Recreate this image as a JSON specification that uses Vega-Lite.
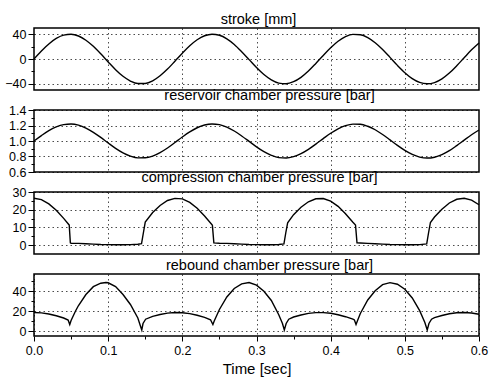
{
  "$schema": "https://vega.github.io/schema/vega-lite/v6.json",
  "padding": {"left": 4, "right": 0, "top": 10, "bottom": 0},
  "background": "white",
  "bounds": "flush",
  "spacing": 20,
  "config": {
    "font": "Liberation Sans",
    "view": {"stroke": "black", "strokeWidth": 1.5},
    "title": {"fontSize": 14.5, "fontWeight": "normal", "color": "black", "offset": 1, "anchor": "middle", "font": "Liberation Sans"},
    "axis": {"domain": false, "labelColor": "black", "labelFontSize": 12.5, "labelFont": "Liberation Sans", "tickColor": "black", "gridColor": "black", "gridDash": [1.5, 3], "gridWidth": 1, "titleColor": "black", "titleFontWeight": "normal", "titleFontSize": 15, "titleFont": "Liberation Sans", "labelPadding": 2, "labelFlush": false, "labelOverlap": false},
    "line": {"color": "black", "strokeWidth": 1.4}
  },
  "datasets": {
    "sr": [
      {"t": 0.00, "stroke": 0, "res": 1.000},
      {"t": 0.01, "stroke": 12.8, "res": 1.070},
      {"t": 0.02, "stroke": 24.3, "res": 1.134},
      {"t": 0.03, "stroke": 33.2, "res": 1.183},
      {"t": 0.04, "stroke": 38.6, "res": 1.212},
      {"t": 0.05, "stroke": 39.9, "res": 1.219},
      {"t": 0.06, "stroke": 37.1, "res": 1.204},
      {"t": 0.07, "stroke": 30.3, "res": 1.167},
      {"t": 0.08, "stroke": 20.4, "res": 1.112},
      {"t": 0.09, "stroke": 8.3, "res": 1.046},
      {"t": 0.10, "stroke": -4.7, "res": 0.974},
      {"t": 0.11, "stroke": -17.2, "res": 0.905},
      {"t": 0.12, "stroke": -27.9, "res": 0.847},
      {"t": 0.13, "stroke": -35.5, "res": 0.805},
      {"t": 0.14, "stroke": -39.6, "res": 0.782},
      {"t": 0.15, "stroke": -39.4, "res": 0.783},
      {"t": 0.16, "stroke": -35.2, "res": 0.806},
      {"t": 0.17, "stroke": -27.1, "res": 0.851},
      {"t": 0.18, "stroke": -16.3, "res": 0.910},
      {"t": 0.19, "stroke": -3.6, "res": 0.980},
      {"t": 0.20, "stroke": 9.3, "res": 1.051},
      {"t": 0.21, "stroke": 21.3, "res": 1.117},
      {"t": 0.22, "stroke": 31.0, "res": 1.171},
      {"t": 0.23, "stroke": 37.5, "res": 1.206},
      {"t": 0.24, "stroke": 40.0, "res": 1.220},
      {"t": 0.25, "stroke": 38.3, "res": 1.211},
      {"t": 0.26, "stroke": 32.6, "res": 1.179},
      {"t": 0.27, "stroke": 23.5, "res": 1.129},
      {"t": 0.28, "stroke": 11.8, "res": 1.065},
      {"t": 0.29, "stroke": -1.0, "res": 0.995},
      {"t": 0.30, "stroke": -13.8, "res": 0.924},
      {"t": 0.31, "stroke": -25.1, "res": 0.862},
      {"t": 0.32, "stroke": -33.7, "res": 0.815},
      {"t": 0.33, "stroke": -38.9, "res": 0.786},
      {"t": 0.34, "stroke": -39.8, "res": 0.781},
      {"t": 0.35, "stroke": -36.6, "res": 0.799},
      {"t": 0.36, "stroke": -29.6, "res": 0.837},
      {"t": 0.37, "stroke": -19.5, "res": 0.893},
      {"t": 0.38, "stroke": -7.2, "res": 0.960},
      {"t": 0.39, "stroke": 5.7, "res": 1.031},
      {"t": 0.40, "stroke": 18.1, "res": 1.100},
      {"t": 0.41, "stroke": 28.6, "res": 1.157},
      {"t": 0.42, "stroke": 36.0, "res": 1.198},
      {"t": 0.43, "stroke": 39.7, "res": 1.218},
      {"t": 0.44, "stroke": 39.2, "res": 1.216},
      {"t": 0.45, "stroke": 34.6, "res": 1.190},
      {"t": 0.46, "stroke": 26.3, "res": 1.145},
      {"t": 0.47, "stroke": 15.3, "res": 1.084},
      {"t": 0.48, "stroke": 2.6, "res": 1.014},
      {"t": 0.49, "stroke": -10.3, "res": 0.943},
      {"t": 0.50, "stroke": -22.1, "res": 0.878},
      {"t": 0.51, "stroke": -31.7, "res": 0.826},
      {"t": 0.52, "stroke": -37.8, "res": 0.792},
      {"t": 0.53, "stroke": -40.0, "res": 0.780},
      {"t": 0.54, "stroke": -38.0, "res": 0.791},
      {"t": 0.55, "stroke": -32.0, "res": 0.824},
      {"t": 0.56, "stroke": -22.7, "res": 0.875},
      {"t": 0.57, "stroke": -10.8, "res": 0.941},
      {"t": 0.58, "stroke": 2.1, "res": 1.012},
      {"t": 0.59, "stroke": 14.8, "res": 1.081},
      {"t": 0.60, "stroke": 25.9, "res": 1.142}
    ],
    "comp": [
      {"t": 0, "p": 26.5}, {"t": 0.01, "p": 25.7}, {"t": 0.02, "p": 23.3}, {"t": 0.03, "p": 19.7}, {"t": 0.04, "p": 15.1}, {"t": 0.046, "p": 12.1}, {"t": 0.0475, "p": 11.3}, {"t": 0.049, "p": 1.3}, {"t": 0.05, "p": 1.1}, {"t": 0.06, "p": 1.0}, {"t": 0.07, "p": 0.8}, {"t": 0.08, "p": 0.6}, {"t": 0.09, "p": 0.4}, {"t": 0.10, "p": 0.3}, {"t": 0.11, "p": 0.2}, {"t": 0.12, "p": 0.2}, {"t": 0.13, "p": 0.3}, {"t": 0.14, "p": 0.5}, {"t": 0.145, "p": 0.8}, {"t": 0.1475, "p": 7}, {"t": 0.150, "p": 13.0}, {"t": 0.16, "p": 18.4}, {"t": 0.17, "p": 22.4}, {"t": 0.18, "p": 25.2}, {"t": 0.19, "p": 26.4}, {"t": 0.20, "p": 26.1}, {"t": 0.21, "p": 24.1}, {"t": 0.22, "p": 20.8}, {"t": 0.23, "p": 16.4}, {"t": 0.24, "p": 11.5}, {"t": 0.2405, "p": 11.3}, {"t": 0.2425, "p": 1.3}, {"t": 0.25, "p": 1.1}, {"t": 0.26, "p": 1.0}, {"t": 0.27, "p": 0.8}, {"t": 0.28, "p": 0.6}, {"t": 0.29, "p": 0.4}, {"t": 0.30, "p": 0.3}, {"t": 0.31, "p": 0.2}, {"t": 0.32, "p": 0.2}, {"t": 0.33, "p": 0.4}, {"t": 0.337, "p": 0.7}, {"t": 0.3395, "p": 7}, {"t": 0.342, "p": 12.6}, {"t": 0.35, "p": 17.2}, {"t": 0.36, "p": 21.4}, {"t": 0.37, "p": 24.5}, {"t": 0.38, "p": 26.2}, {"t": 0.39, "p": 26.3}, {"t": 0.40, "p": 24.8}, {"t": 0.41, "p": 21.9}, {"t": 0.42, "p": 17.7}, {"t": 0.43, "p": 12.9}, {"t": 0.4335, "p": 11.4}, {"t": 0.4355, "p": 1.3}, {"t": 0.44, "p": 1.2}, {"t": 0.45, "p": 1.0}, {"t": 0.46, "p": 0.8}, {"t": 0.47, "p": 0.6}, {"t": 0.48, "p": 0.4}, {"t": 0.49, "p": 0.3}, {"t": 0.50, "p": 0.2}, {"t": 0.51, "p": 0.2}, {"t": 0.52, "p": 0.3}, {"t": 0.5295, "p": 0.7}, {"t": 0.532, "p": 7}, {"t": 0.5345, "p": 12.8}, {"t": 0.54, "p": 15.9}, {"t": 0.55, "p": 20.3}, {"t": 0.56, "p": 23.8}, {"t": 0.57, "p": 25.9}, {"t": 0.58, "p": 26.5}, {"t": 0.59, "p": 25.4}, {"t": 0.60, "p": 22.8}
    ],
    "reb": [
      {"t": 0, "p": 18.5}, {"t": 0.01, "p": 18.1}, {"t": 0.02, "p": 17.0}, {"t": 0.03, "p": 15.2}, {"t": 0.04, "p": 13.0}, {"t": 0.046, "p": 11.0}, {"t": 0.0482, "p": 6.5}, {"t": 0.05, "p": 10.5}, {"t": 0.056, "p": 20.0}, {"t": 0.06, "p": 25.5}, {"t": 0.07, "p": 36.5}, {"t": 0.08, "p": 44.3}, {"t": 0.09, "p": 47.8}, {"t": 0.097, "p": 48.5}, {"t": 0.10, "p": 48.2}, {"t": 0.11, "p": 44.5}, {"t": 0.12, "p": 36.5}, {"t": 0.13, "p": 26.5}, {"t": 0.14, "p": 13.0}, {"t": 0.1435, "p": 5}, {"t": 0.1453, "p": 1.0}, {"t": 0.147, "p": 7.5}, {"t": 0.1505, "p": 11.8}, {"t": 0.16, "p": 14.6}, {"t": 0.17, "p": 16.5}, {"t": 0.18, "p": 17.9}, {"t": 0.19, "p": 18.5}, {"t": 0.20, "p": 18.3}, {"t": 0.21, "p": 17.4}, {"t": 0.22, "p": 15.7}, {"t": 0.23, "p": 13.6}, {"t": 0.238, "p": 11.2}, {"t": 0.2412, "p": 6.5}, {"t": 0.243, "p": 10.0}, {"t": 0.25, "p": 21.5}, {"t": 0.26, "p": 34.0}, {"t": 0.27, "p": 42.5}, {"t": 0.28, "p": 47.2}, {"t": 0.29, "p": 48.5}, {"t": 0.30, "p": 45.8}, {"t": 0.31, "p": 39.7}, {"t": 0.32, "p": 30.5}, {"t": 0.33, "p": 16.2}, {"t": 0.335, "p": 7.5}, {"t": 0.3375, "p": 1.0}, {"t": 0.34, "p": 7.5}, {"t": 0.3435, "p": 11.8}, {"t": 0.35, "p": 14.0}, {"t": 0.36, "p": 16.0}, {"t": 0.37, "p": 17.6}, {"t": 0.38, "p": 18.4}, {"t": 0.39, "p": 18.4}, {"t": 0.40, "p": 17.7}, {"t": 0.41, "p": 16.3}, {"t": 0.42, "p": 14.3}, {"t": 0.43, "p": 11.9}, {"t": 0.432, "p": 11.0}, {"t": 0.4342, "p": 6.5}, {"t": 0.436, "p": 10.0}, {"t": 0.44, "p": 17.5}, {"t": 0.45, "p": 31.0}, {"t": 0.46, "p": 40.3}, {"t": 0.47, "p": 46.3}, {"t": 0.48, "p": 48.4}, {"t": 0.49, "p": 46.8}, {"t": 0.50, "p": 41.8}, {"t": 0.51, "p": 33.0}, {"t": 0.52, "p": 20.4}, {"t": 0.527, "p": 8.5}, {"t": 0.5302, "p": 1.0}, {"t": 0.5325, "p": 7.5}, {"t": 0.536, "p": 11.8}, {"t": 0.54, "p": 13.4}, {"t": 0.55, "p": 15.5}, {"t": 0.56, "p": 17.2}, {"t": 0.57, "p": 18.2}, {"t": 0.58, "p": 18.5}, {"t": 0.59, "p": 18.0}, {"t": 0.60, "p": 16.7}
    ]
  },
  "vconcat": [
    {
      "title": {"text": "stroke [mm]", "dx": 2},
      "width": 445, "height": 62,
      "data": {"name": "sr"},
      "mark": {"type": "line", "interpolate": "monotone"},
      "encoding": {
        "x": {"field": "t", "type": "quantitative", "scale": {"domain": [0, 0.6], "nice": false},
              "axis": {"values": [0.1, 0.2, 0.3, 0.4, 0.5], "labels": false, "ticks": false, "title": null, "grid": true, "gridOpacity": 0.7}},
        "y": {"field": "stroke", "type": "quantitative", "scale": {"domain": [-50, 50], "nice": false},
              "axis": {"values": [-40, -20, 0, 20, 40], "title": null,
                       "labelExpr": "datum.value % 40 == 0 ? datum.label : ''",
                       "tickSize": {"condition": {"test": "datum.value % 40 != 0", "value": 3}, "value": 6},
                       "gridOpacity": {"condition": {"test": "datum.value % 40 != 0", "value": 0}, "value": 0.7}}}
      }
    },
    {
      "title": {"text": "reservoir chamber pressure [bar]", "dx": 13},
      "width": 445, "height": 62,
      "data": {"name": "sr"},
      "mark": {"type": "line", "interpolate": "monotone"},
      "encoding": {
        "x": {"field": "t", "type": "quantitative", "scale": {"domain": [0, 0.6], "nice": false},
              "axis": {"values": [0.1, 0.2, 0.3, 0.4, 0.5], "labels": false, "ticks": false, "title": null, "grid": true, "gridOpacity": 0.7}},
        "y": {"field": "res", "type": "quantitative", "scale": {"domain": [0.6, 1.4], "nice": false},
              "axis": {"values": [0.6, 0.7, 0.8, 0.9, 1.0, 1.1, 1.2, 1.3, 1.4], "title": null, "format": ".1f",
                       "labelExpr": "round(datum.value * 10) % 2 == 0 ? datum.label : ''",
                       "tickSize": {"condition": {"test": "round(datum.value * 10) % 2 == 1", "value": 3}, "value": 6},
                       "gridOpacity": {"condition": {"test": "round(datum.value * 10) % 2 == 1", "value": 0}, "value": 0.7}}}
      }
    },
    {
      "title": {"text": "compression chamber pressure [bar]", "dx": 3},
      "width": 445, "height": 62,
      "data": {"name": "comp"},
      "mark": {"type": "line"},
      "encoding": {
        "x": {"field": "t", "type": "quantitative", "scale": {"domain": [0, 0.6], "nice": false},
              "axis": {"values": [0.1, 0.2, 0.3, 0.4, 0.5], "labels": false, "ticks": false, "title": null, "grid": true, "gridOpacity": 0.7}},
        "y": {"field": "p", "type": "quantitative", "scale": {"domain": [-5, 30], "nice": false},
              "axis": {"values": [0, 5, 10, 15, 20, 25, 30], "title": null,
                       "labelExpr": "datum.value % 10 == 0 ? datum.label : ''",
                       "tickSize": {"condition": {"test": "datum.value % 10 != 0", "value": 3}, "value": 6},
                       "gridOpacity": {"condition": {"test": "datum.value % 10 != 0", "value": 0}, "value": 0.7}}}
      }
    },
    {
      "title": {"text": "rebound chamber pressure [bar]", "dx": 13},
      "width": 445, "height": 62,
      "data": {"name": "reb"},
      "mark": {"type": "line"},
      "encoding": {
        "x": {"field": "t", "type": "quantitative", "scale": {"domain": [0, 0.6], "nice": false},
              "axis": {"values": [0, 0.05, 0.1, 0.15, 0.2, 0.25, 0.3, 0.35, 0.4, 0.45, 0.5, 0.55, 0.6], "title": "Time [sec]", "format": ".1f",
                       "labelExpr": "round(datum.value * 100) % 10 == 0 ? datum.label : ''",
                       "tickSize": {"condition": {"test": "round(datum.value * 100) % 10 != 0", "value": 3}, "value": 5},
                       "gridOpacity": {"condition": {"test": "round(datum.value * 100) % 10 != 0", "value": 0}, "value": 0.7},
                       "labelPadding": 3, "titlePadding": 5}},
        "y": {"field": "p", "type": "quantitative", "scale": {"domain": [-5, 57], "nice": false},
              "axis": {"values": [0, 10, 20, 30, 40, 50], "title": null,
                       "labelExpr": "datum.value % 20 == 0 ? datum.label : ''",
                       "tickSize": {"condition": {"test": "datum.value % 20 != 0", "value": 3}, "value": 6},
                       "gridOpacity": {"condition": {"test": "datum.value % 20 != 0", "value": 0}, "value": 0.7}}}
      }
    }
  ]
}
